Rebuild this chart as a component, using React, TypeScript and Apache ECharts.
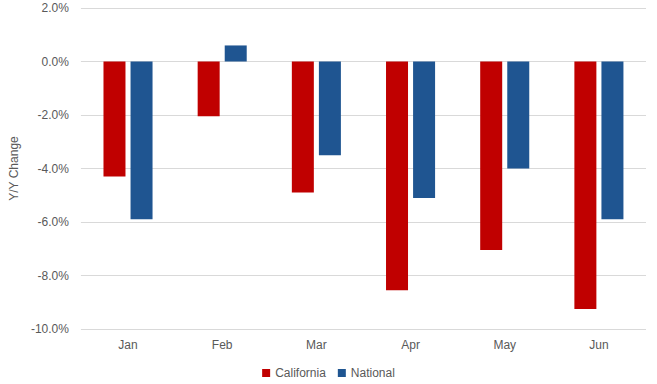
import React, { useEffect, useRef } from "react";
import * as echarts from "echarts";

const categories = ["Jan", "Feb", "Mar", "Apr", "May", "Jun"];
const california = [-4.3, -2.05, -4.9, -8.55, -7.05, -9.25];
const national = [-5.9, 0.6, -3.5, -5.1, -4.0, -5.9];
const yTicks = { min: -10, max: 2, interval: 2 };

export default function App() {
  const ref = useRef<HTMLDivElement>(null);
  useEffect(() => {
    document.body.style.margin = "0";
    const chart = echarts.init(ref.current!, null, { renderer: "svg" });
    const font = "'Liberation Sans', Arial, sans-serif";
    const color = "#595959";
    chart.setOption({
      animation: false,
      textStyle: { fontFamily: font },
      grid: { left: 80, right: 11, top: 8, bottom: 55, containLabel: false },
      legend: {
        top: 362,
        left: "center",
        itemWidth: 8,
        itemHeight: 8,
        itemGap: 12,
        icon: "rect",
        textStyle: { color, fontSize: 12, fontFamily: font },
        data: ["California", "National"],
      },
      xAxis: {
        type: "category",
        data: categories,
        position: "bottom",
        axisLine: { show: false, onZero: false },
        axisTick: { show: false },
        axisLabel: { color, fontSize: 12, margin: 10, fontFamily: font },
      },
      yAxis: {
        type: "value",
        min: yTicks.min,
        max: yTicks.max,
        interval: yTicks.interval,
        name: "Y/Y Change",
        nameLocation: "middle",
        nameGap: 53,
        nameTextStyle: { color, fontSize: 12, fontFamily: font },
        axisLine: { show: false },
        axisTick: { show: false },
        axisLabel: {
          color,
          fontSize: 12,
          margin: 12,
          fontFamily: font,
          formatter: (v: number) => v.toFixed(1) + "%",
        },
        splitLine: { lineStyle: { color: "#d9d9d9", width: 1 } },
      },
      series: [
        {
          name: "California",
          type: "bar",
          data: california,
          barWidth: 22,
          barGap: "23%",
          itemStyle: { color: "#C00000" },
        },
        {
          name: "National",
          type: "bar",
          data: national,
          barWidth: 22,
          itemStyle: { color: "#1F5591" },
        },
      ],
    });
    return () => chart.dispose();
  }, []);
  return <div ref={ref} style={{ width: 657, height: 384 }} />;
}
